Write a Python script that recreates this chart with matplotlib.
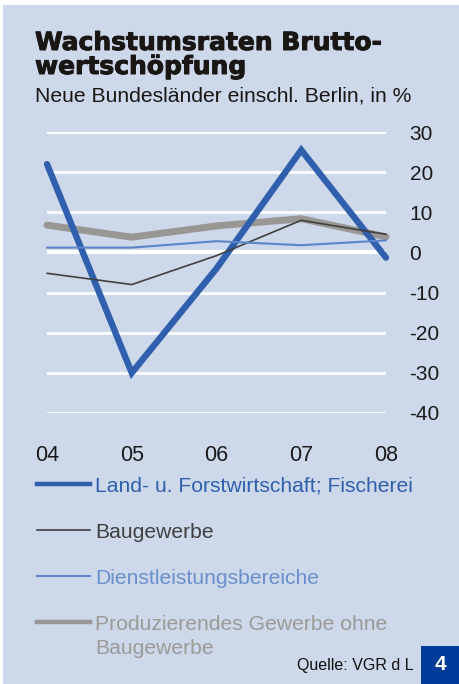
import matplotlib.pyplot as plt
import matplotlib.patheffects as pe
from matplotlib.lines import Line2D
from matplotlib.patches import Rectangle

# Werte (Wachstumsraten in %)
years = ["04", "05", "06", "07", "08"]
land = [22, -30, -4, 25.5, -1.3]
bau = [-5.2, -8, -0.8, 8, 4.5]
dienst = [1.2, 1.2, 2.8, 1.8, 3.0]
produz = [6.8, 3.8, 6.6, 8.4, 3.9]
yticks = [30, 20, 10, 0, -10, -20, -30, -40]

series = [
    ("Land- u. Forstwirtschaft; Fischerei", land, "#2f5fad", 4.6),
    ("Baugewerbe", bau, "#404040", 1.2),
    ("Dienstleistungsbereiche", dienst, "#5a85c8", 1.5),
    ("Produzierendes Gewerbe ohne\nBaugewerbe", produz, "#999794", 5.0),
]
text_colors = ["#2f5fad", "#404040", "#6a8fcc", "#9c9a97"]

W, H = 459, 684
bg = "#cdd8ea"
plt.rcParams["font.family"] = ["Liberation Sans", "DejaVu Sans"]

fig = plt.figure(figsize=(W / 100, H / 100), dpi=100, facecolor="white")
fig.add_artist(Rectangle((3 / W, 0), 1, 1 - 5 / H, transform=fig.transFigure,
                         facecolor=bg, edgecolor="none", zorder=0))

ax = fig.add_axes([47 / W, 1 - 413 / H, 339 / W, 281 / H])
ax.set_facecolor("none")
for s in ax.spines.values():
    s.set_visible(False)

x = list(range(len(years)))
for yv in yticks:
    ax.axhline(yv, color="white", lw=3.0 if yv == 0 else 2.0, zorder=1)

# Reihenfolge: grau unten, dann blau, schwarz, hellblau
order = [3, 0, 1, 2]
for z, i in enumerate(order):
    name, vals, col, lw = series[i]
    ax.plot(x, vals, color=col, lw=lw, solid_capstyle="round",
            solid_joinstyle="miter", clip_on=False, zorder=3 + z)

ax.set_xlim(0, 4)
ax.set_ylim(-40, 30)
ax.set_xticks(x)
ax.set_xticklabels(years, fontsize=15.5, color="#1a1a1a")
ax.set_yticks(yticks)
ax.set_yticklabels([str(v) for v in yticks], fontsize=15, color="#1a1a1a")
ax.yaxis.tick_right()
ax.tick_params(axis="y", length=0, pad=17)
ax.tick_params(axis="x", length=0, pad=23)

# Titel (etwas fetter, wie Arial Black)
heavy = [pe.withStroke(linewidth=0.7, foreground="#1a1614")]
fig.text(35 / W, 1 - 50 / H, "Wachstumsraten Brutto-", fontsize=18,
         fontweight="bold", family="DejaVu Sans", color="#1a1614",
         va="baseline", path_effects=heavy)
fig.text(35 / W, 1 - 74 / H, "wertschöpfung", fontsize=18,
         fontweight="bold", family="DejaVu Sans", color="#1a1614",
         va="baseline", path_effects=heavy)
fig.text(35 / W, 1 - 102 / H, "Neue Bundesländer einschl. Berlin, in %",
         fontsize=15.2, color="#1a1614", va="baseline")

# Legende
rows = [484, 530, 576, 622]
for (name, vals, col, lw), tc, ry in zip(series, text_colors, rows):
    fig.add_artist(Line2D([37 / W, 90 / W], [1 - ry / H, 1 - ry / H],
                          transform=fig.transFigure, color=col,
                          lw=min(lw, 3.2)))
    for k, part in enumerate(name.split("\n")):
        fig.text(95 / W, 1 - (ry + 7.5 + 25 * k) / H, part, fontsize=15.2,
                 color=tc, va="baseline")

fig.text(297 / W, 1 - 670 / H, "Quelle: VGR d L", fontsize=11.5,
         color="#111111", va="baseline")
fig.add_artist(Rectangle((421 / W, 0), 38 / W, 38 / H, transform=fig.transFigure,
                         facecolor="#003b99", edgecolor="none"))
fig.text(440 / W, 1 - 665 / H, "4", fontsize=15, fontweight="bold",
         color="white", ha="center", va="center")

fig.savefig("out.png", dpi=100, facecolor="white")
